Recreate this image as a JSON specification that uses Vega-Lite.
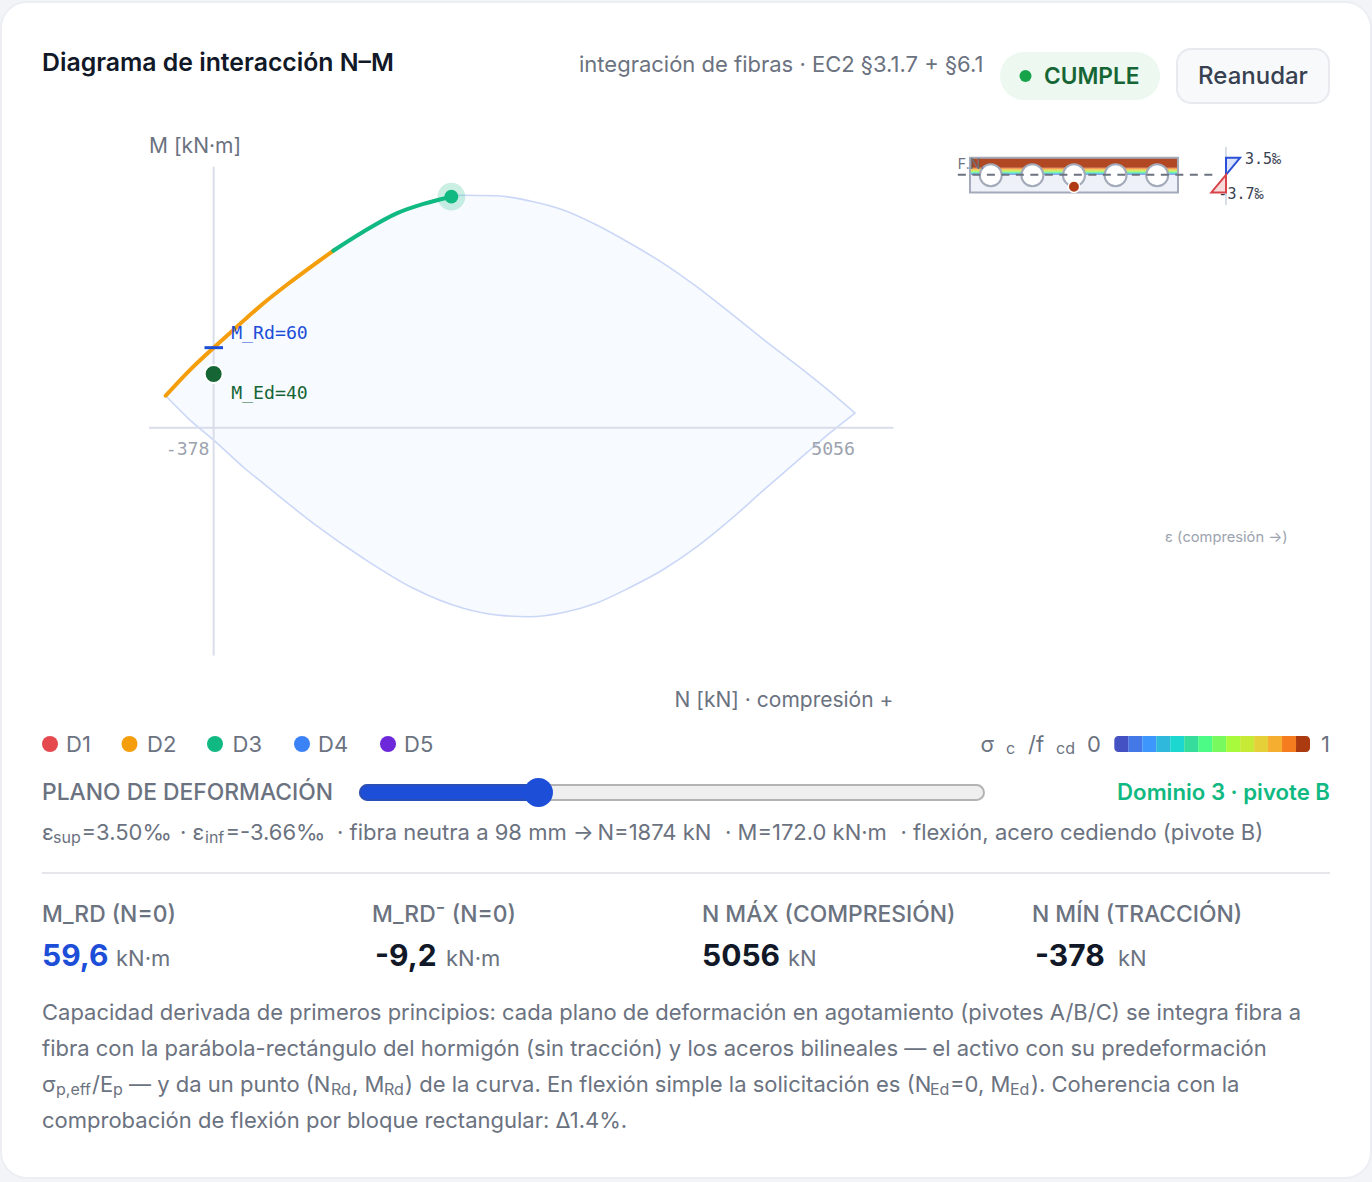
{
"$schema":"https://vega.github.io/schema/vega-lite/v6.json",
"description":"Diagrama de interaccion N-M",
"width":1370,"height":1176,
"autosize":"none",
"padding":{"left":1,"top":2,"right":1,"bottom":4},
"background":"#f3f4f8",
"view":{"fill":"#ffffff","stroke":"#eceef4","strokeWidth":2,"cornerRadius":26},
"config":{
"view":{"stroke":null},
"axis":{"disable":true},
"legend":{"disable":true},
"style":{
"body":{"font":"Inter","fontSize":22,"color":"#6b7280","align":"left","baseline":"middle"},
"sub":{"font":"Inter","fontSize":16,"color":"#6b7280","align":"left","baseline":"middle"},
"caps":{"font":"Inter","fontSize":22.85,"fontWeight":500,"color":"#6b7280","align":"left","baseline":"middle"},
"kpi":{"font":"Inter","fontSize":30,"fontWeight":700,"color":"#111827","align":"left","baseline":"middle"},
"mono":{"font":"DejaVu Sans Mono","fontSize":18.2,"align":"left","baseline":"middle"},
"monos":{"font":"DejaVu Sans Mono","fontSize":15,"color":"#374151","align":"left","baseline":"middle"}
}
},
"datasets":{
"envelope":[
{"N":-378,"up":23.8,"lo":23.8},{"N":-186,"up":43.1,"lo":5.7},{"N":0,"up":59.6,"lo":-9.2},{"N":260,"up":81.7,"lo":-31.5},{"N":391,"up":92.5,"lo":-41.4},{"N":786,"up":121.1,"lo":-71.2},{"N":1180,"up":145.9,"lo":-97.2},{"N":1574,"up":164.3,"lo":-119.6},{"N":1968,"up":173.1,"lo":-134.5},{"N":2231,"up":172.7,"lo":-139.5},{"N":2494,"up":168.8,"lo":-140.8},{"N":2756,"up":162.1,"lo":-137.6},{"N":3020,"up":150.9,"lo":-130.5},{"N":3282,"up":137.3,"lo":-119},{"N":3545,"up":122.4,"lo":-105.6},{"N":3808,"up":105,"lo":-88.8},{"N":4071,"up":85.6,"lo":-68.7},{"N":4333,"up":65.8,"lo":-46.7},{"N":4596,"up":46.7,"lo":-25.2},{"N":4859,"up":26.8,"lo":-3.9},{"N":5056,"up":10.9,"lo":10.9}],
"path":[
{"dom":"D2","N":-378,"M":23.8},{"dom":"D2","N":-186,"M":43.1},{"dom":"D2","N":0,"M":59.6},{"dom":"D2","N":129,"M":70.5},{"dom":"D2","N":260,"M":81.7},{"dom":"D2","N":391,"M":92.5},{"dom":"D2","N":588,"M":107.2},{"dom":"D2","N":786,"M":121.1},{"dom":"D2","N":943,"M":131.8},
{"dom":"D3","N":943,"M":131.8},{"dom":"D3","N":1180,"M":145.9},{"dom":"D3","N":1443,"M":159.6},{"dom":"D3","N":1654,"M":166.6},{"dom":"D3","N":1874,"M":172}],
"sigma":[
{"bin":1,"s0":0,"s1":0.0714,"d0":96,"d1":98},{"bin":2,"s0":0.0714,"s1":0.1429,"d0":93.8,"d1":96},{"bin":3,"s0":0.1429,"s1":0.2143,"d0":91.6,"d1":93.8},{"bin":4,"s0":0.2143,"s1":0.2857,"d0":89.3,"d1":91.6},{"bin":5,"s0":0.2857,"s1":0.3571,"d0":86.9,"d1":89.3},{"bin":6,"s0":0.3571,"s1":0.4286,"d0":84.3,"d1":86.9},{"bin":7,"s0":0.4286,"s1":0.5,"d0":81.6,"d1":84.3},{"bin":8,"s0":0.5,"s1":0.5714,"d0":78.7,"d1":81.6},{"bin":9,"s0":0.5714,"s1":0.6429,"d0":75.5,"d1":78.7},{"bin":10,"s0":0.6429,"s1":0.7143,"d0":71.9,"d1":75.5},{"bin":11,"s0":0.7143,"s1":0.7857,"d0":67.9,"d1":71.9},{"bin":12,"s0":0.7857,"s1":0.8571,"d0":63.2,"d1":67.9},{"bin":13,"s0":0.8571,"s1":0.9286,"d0":57,"d1":63.2},{"bin":14,"s0":0.9286,"s1":1,"d0":0,"d1":57}]
},
"resolve":{"scale":{"x":"independent","y":"independent","color":"independent"}},
"layer":[
{"layer":[
{"data":{"name":"envelope"},"mark":{"type":"area","interpolate":"monotone","fill":"#f7faff","stroke":"#cbd7f7","strokeWidth":1.6},
"encoding":{"x":{"field":"N","type":"quantitative","scale":{"domain":[-1676.4,9123.9],"nice":false,"zero":false}},"y":{"field":"up","type":"quantitative","scale":{"domain":[-558.67,316.98],"nice":false,"zero":false}},"y2":{"field":"lo"}}},
{"data":{"values":[{"from":-509,"to":5359,"at":0}]},"mark":{"type":"rule","color":"#d9dde9","strokeWidth":2},"encoding":{"x":{"field":"from","type":"quantitative"},"x2":{"field":"to"},"y":{"field":"at","type":"quantitative"}}},
{"data":{"values":[{"from":-169.7,"to":194.3,"at":0}]},"mark":{"type":"rule","color":"#d9dde9","strokeWidth":2},"encoding":{"y":{"field":"from","type":"quantitative"},"y2":{"field":"to"},"x":{"field":"at","type":"quantitative"}}},
{"data":{"name":"path"},"mark":{"type":"line","interpolate":"monotone","strokeWidth":4,"strokeCap":"round"},"encoding":{"x":{"field":"N","type":"quantitative"},"y":{"field":"M","type":"quantitative"},"color":{"field":"dom","type":"nominal","scale":{"domain":["D2","D3"],"range":["#f59e0b","#10b981"]}}}},
{"data":{"values":[{"N":1874,"M":172}]},"mark":{"type":"point","filled":true,"size":770,"color":"#10b981","opacity":0.22},"encoding":{"x":{"field":"N","type":"quantitative"},"y":{"field":"M","type":"quantitative"}}},
{"data":{"values":[{"N":1874,"M":172}]},"mark":{"type":"point","filled":true,"size":190,"color":"#10b981","opacity":1},"encoding":{"x":{"field":"N","type":"quantitative"},"y":{"field":"M","type":"quantitative"}}},
{"data":{"values":[{"from":-72,"to":74,"M":59.6}]},"mark":{"type":"rule","color":"#1d4ed8","strokeWidth":3},"encoding":{"x":{"field":"from","type":"quantitative"},"x2":{"field":"to"},"y":{"field":"M","type":"quantitative"}}},
{"data":{"values":[{"N":0,"M":40}]},"mark":{"type":"point","filled":true,"size":324,"fill":"#166534","stroke":"#ffffff","strokeWidth":2,"opacity":1},"encoding":{"x":{"field":"N","type":"quantitative"},"y":{"field":"M","type":"quantitative"}}},
{"data":{"values":[{"N":0,"M":59.6,"t":"M_Rd=60"}]},"mark":{"type":"text","style":"mono","color":"#1d4ed8","dx":17.5,"dy":-14},"encoding":{"x":{"field":"N","type":"quantitative"},"y":{"field":"M","type":"quantitative"},"text":{"field":"t"}}},
{"data":{"values":[{"N":0,"M":40,"t":"M_Ed=40"}]},"mark":{"type":"text","style":"mono","color":"#166534","dx":17.5,"dy":20.5},"encoding":{"x":{"field":"N","type":"quantitative"},"y":{"field":"M","type":"quantitative"},"text":{"field":"t"}}},
{"data":{"values":[{"N":-378,"M":0,"t":"-378"}]},"mark":{"type":"text","style":"mono","color":"#9ca3af","dy":22.5},"encoding":{"x":{"field":"N","type":"quantitative"},"y":{"field":"M","type":"quantitative"},"text":{"field":"t"}}},
{"data":{"values":[{"N":5056,"M":0,"t":"5056"}]},"mark":{"type":"text","style":"mono","color":"#9ca3af","align":"right","dy":22.5},"encoding":{"x":{"field":"N","type":"quantitative"},"y":{"field":"M","type":"quantitative"},"text":{"field":"t"}}},
{"data":{"values":[{"N":-509,"M":194.3,"t":"M [kN·m]"}]},"mark":{"type":"text","style":"body","fontSize":21,"dy":-19.5},"encoding":{"x":{"field":"N","type":"quantitative"},"y":{"field":"M","type":"quantitative"},"text":{"field":"t"}}},
{"data":{"values":[{"N":5359,"M":-169.7,"t":"N [kN] · compresión +"}]},"mark":{"type":"text","style":"body","fontSize":21,"align":"right","dy":45.5},"encoding":{"x":{"field":"N","type":"quantitative"},"y":{"field":"M","type":"quantitative"},"text":{"field":"t"}}}
]},
{"layer":[
{"data":{"values":[{"b0":0,"b1":1200,"d0":0,"d1":200}]},"mark":{"type":"rect","fill":"#eef1f7"},
"encoding":{"x":{"field":"b0","type":"quantitative","scale":{"domain":[-5590,2313.5],"nice":false,"zero":false}},"x2":{"field":"b1"},"y":{"field":"d0","type":"quantitative","scale":{"domain":[-898.8,5885.8],"reverse":true,"nice":false,"zero":false}},"y2":{"field":"d1"}}},
{"data":{"name":"sigma"},"mark":{"type":"rect","opacity":0.92},"encoding":{"x":{"datum":0},"x2":{"datum":1200},"y":{"field":"d0","type":"quantitative"},"y2":{"field":"d1"},"color":{"field":"bin","type":"ordinal","scale":{"domain":[1,2,3,4,5,6,7,8,9,10,11,12,13,14],"range":["#4451c3","#4478e6","#3d96fb","#2fb7dc","#1bd7d0","#35dc9b","#4bfb85","#78fa5e","#a8fb3c","#c6ea36","#e5d03a","#f5ae2f","#f57d20","#ac3a10"]}}}},
{"data":{"values":[{"b0":0,"b1":1200,"d0":0,"d1":200}]},"mark":{"type":"rect","fill":null,"stroke":"#a3aaba","strokeWidth":2},"encoding":{"x":{"field":"b0","type":"quantitative"},"x2":{"field":"b1"},"y":{"field":"d0","type":"quantitative"},"y2":{"field":"d1"}}},
{"data":{"values":[{"b":120,"d":101},{"b":360,"d":101},{"b":600,"d":101},{"b":840,"d":101},{"b":1080,"d":101}]},"mark":{"type":"point","filled":true,"size":484,"fill":"#ffffff","stroke":"#a3aaba","strokeWidth":2,"opacity":1},"encoding":{"x":{"field":"b","type":"quantitative"},"y":{"field":"d","type":"quantitative"}}},
{"data":{"values":[{"b":600,"d":167}]},"mark":{"type":"point","filled":true,"size":130,"fill":"#b03a14","stroke":"#ffffff","strokeWidth":1.5,"opacity":1},"encoding":{"x":{"field":"b","type":"quantitative"},"y":{"field":"d","type":"quantitative"}}},
{"data":{"values":[{"from":-70,"to":1414,"d":98}]},"mark":{"type":"rule","color":"#6b7280","strokeWidth":2,"strokeDash":[8,6.5]},"encoding":{"x":{"field":"from","type":"quantitative"},"x2":{"field":"to"},"y":{"field":"d","type":"quantitative"}}},
{"data":{"values":[{"b":-70,"d":98,"t":"F.N."}]},"mark":{"type":"text","style":"body","fontSize":14,"dy":-9.5},"encoding":{"x":{"field":"b","type":"quantitative"},"y":{"field":"d","type":"quantitative"},"text":{"field":"t"}}}
]},
{"layer":[
{"data":{"values":[{"e":0,"d0":-62,"d1":272}]},"mark":{"type":"rule","color":"#d9dde9","strokeWidth":2},"encoding":{"x":{"field":"e","type":"quantitative","scale":{"domain":[-306.25,36.25],"nice":false,"zero":false}},"y":{"field":"d0","type":"quantitative","scale":{"domain":[-898.8,5885.8],"reverse":true,"nice":false,"zero":false}},"y2":{"field":"d1"}}},
{"data":{"values":[{"e":3.5,"d":0},{"e":0,"d":98}]},"mark":{"type":"area","orient":"horizontal","fill":"#dbe4fb","stroke":"#2b50d8","strokeWidth":2},"encoding":{"x":{"field":"e","type":"quantitative"},"x2":{"datum":0},"y":{"field":"d","type":"quantitative"}}},
{"data":{"values":[{"e":0,"d":98},{"e":-3.66,"d":200}]},"mark":{"type":"area","orient":"horizontal","fill":"#f8dcdc","stroke":"#d9444a","strokeWidth":2},"encoding":{"x":{"field":"e","type":"quantitative"},"x2":{"datum":0},"y":{"field":"d","type":"quantitative"}}},
{"data":{"values":[{"e":3.5,"d":0,"t":"3.5‰"}]},"mark":{"type":"text","style":"monos","dx":5,"dy":1},"encoding":{"x":{"field":"e","type":"quantitative"},"y":{"field":"d","type":"quantitative"},"text":{"field":"t"}}},
{"data":{"values":[{"e":-3.66,"d":200,"t":"-3.7‰"}]},"mark":{"type":"text","style":"monos","dx":7,"dy":2},"encoding":{"x":{"field":"e","type":"quantitative"},"y":{"field":"d","type":"quantitative"},"text":{"field":"t"}}}
]},
{"layer":[
{"data":{"name":"sigma"},"transform":[{"filter":"datum.bin > 1 && datum.bin < 14"}],"mark":{"type":"rect"},"encoding":{"x":{"field":"s0","type":"quantitative","scale":{"domain":[-5.689,1.3117],"nice":false,"zero":false}},"x2":{"field":"s1"},"y":{"datum":736,"scale":{"domain":[2,1178],"reverse":true,"nice":false,"zero":false}},"y2":{"datum":752},"color":{"field":"bin","type":"ordinal","scale":{"domain":[1,2,3,4,5,6,7,8,9,10,11,12,13,14],"range":["#4451c3","#4478e6","#3d96fb","#2fb7dc","#1bd7d0","#35dc9b","#4bfb85","#78fa5e","#a8fb3c","#c6ea36","#e5d03a","#f5ae2f","#f57d20","#ac3a10"]}}}},
{"data":{"name":"sigma"},"transform":[{"filter":"datum.bin == 1"}],"mark":{"type":"rect","cornerRadiusTopLeft":4,"cornerRadiusBottomLeft":4},"encoding":{"x":{"field":"s0","type":"quantitative"},"x2":{"field":"s1"},"y":{"datum":736},"y2":{"datum":752},"color":{"field":"bin","type":"ordinal"}}},
{"data":{"name":"sigma"},"transform":[{"filter":"datum.bin == 14"}],"mark":{"type":"rect","cornerRadiusTopRight":4,"cornerRadiusBottomRight":4},"encoding":{"x":{"field":"s0","type":"quantitative"},"x2":{"field":"s1"},"y":{"datum":736},"y2":{"datum":752},"color":{"field":"bin","type":"ordinal"}}}
]},
{"layer":[
{"data":{"values":[{"start":0,"end":1}]},"mark":{"type":"rect","fill":"#efefef","stroke":"#b3b3b3","strokeWidth":2,"cornerRadius":8},"encoding":{"x":{"field":"start","type":"quantitative","scale":{"domain":[-0.5753,1.6202],"nice":false,"zero":false}},"x2":{"field":"end"},"y":{"datum":785,"scale":{"domain":[2,1178],"reverse":true,"nice":false,"zero":false}},"y2":{"datum":800}}},
{"data":{"values":[{"start":0,"value":0.286}]},"mark":{"type":"rect","fill":"#1d4ed8","stroke":"#2a4fb8","strokeWidth":2,"cornerRadius":8},"encoding":{"x":{"field":"start","type":"quantitative"},"x2":{"field":"value"},"y":{"datum":785},"y2":{"datum":800}}},
{"data":{"values":[{"value":0.286}]},"mark":{"type":"point","filled":true,"size":841,"color":"#1d4ed8","opacity":1},"encoding":{"x":{"field":"value","type":"quantitative"},"y":{"datum":792.5}}}
]},
{"layer":[
{"data":{"values":[{"t":"pill"}]},"mark":{"type":"rect","fill":"#edf8f1","cornerRadius":24},"encoding":{"x":{"datum":1000,"scale":{"domain":[1,1371],"nice":false,"zero":false}},"x2":{"datum":1160},"y":{"datum":52,"scale":{"domain":[2,1178],"reverse":true,"nice":false,"zero":false}},"y2":{"datum":100}}},
{"data":{"values":[{"t":"button"}]},"mark":{"type":"rect","fill":"#f8f9fb","stroke":"#e8eaef","strokeWidth":2,"cornerRadius":14},"encoding":{"x":{"datum":1177},"x2":{"datum":1329},"y":{"datum":49},"y2":{"datum":103}}},
{"data":{"values":[{"t":"divider"}]},"mark":{"type":"rule","color":"#e5e7eb","strokeWidth":2},"encoding":{"x":{"datum":42},"x2":{"datum":1330},"y":{"datum":873}}},
{"data":{"values":[{"t":"Diagrama de interacción N–M"}]},"mark":{"type":"text","style":"body","fontSize":24.8,"fontWeight":600,"color":"#111827"},"encoding":{"x":{"datum":42},"y":{"datum":64},"text":{"field":"t"}}},
{"data":{"values":[{"t":"integración de fibras · EC2 §3.1.7 + §6.1"}]},"mark":{"type":"text","style":"body"},"encoding":{"x":{"datum":579},"y":{"datum":65},"text":{"field":"t"}}},
{"data":{"values":[{"t":"ok"}]},"mark":{"type":"point","filled":true,"size":144,"color":"#16a34a","opacity":1},"encoding":{"x":{"datum":1025.5},"y":{"datum":76}}},
{"data":{"values":[{"t":"CUMPLE"}]},"mark":{"type":"text","style":"body","fontSize":22.7,"fontWeight":600,"color":"#166534"},"encoding":{"x":{"datum":1044},"y":{"datum":77},"text":{"field":"t"}}},
{"data":{"values":[{"t":"Reanudar"}]},"mark":{"type":"text","style":"body","fontSize":24,"fontWeight":500,"color":"#374151","align":"center"},"encoding":{"x":{"datum":1253},"y":{"datum":77},"text":{"field":"t"}}},
{"data":{"values":[{"t":"ε (compresión →)"}]},"mark":{"type":"text","style":"body","fontSize":14.7,"color":"#9ca3af"},"encoding":{"x":{"datum":1165},"y":{"datum":538},"text":{"field":"t"}}},
{"data":{"values":[{"t":"D1"}]},"mark":{"type":"point","filled":true,"size":256,"color":"#e5484d","opacity":1},"encoding":{"x":{"datum":50},"y":{"datum":744}}},
{"data":{"values":[{"t":"D2"}]},"mark":{"type":"point","filled":true,"size":256,"color":"#f59e0b","opacity":1},"encoding":{"x":{"datum":129.5},"y":{"datum":744}}},
{"data":{"values":[{"t":"D3"}]},"mark":{"type":"point","filled":true,"size":256,"color":"#10b981","opacity":1},"encoding":{"x":{"datum":215},"y":{"datum":744}}},
{"data":{"values":[{"t":"D4"}]},"mark":{"type":"point","filled":true,"size":256,"color":"#3b82f6","opacity":1},"encoding":{"x":{"datum":302},"y":{"datum":744}}},
{"data":{"values":[{"t":"D5"}]},"mark":{"type":"point","filled":true,"size":256,"color":"#6d28d9","opacity":1},"encoding":{"x":{"datum":388},"y":{"datum":744}}},
{"data":{"values":[{"t":"D1"}]},"mark":{"type":"text","style":"body"},"encoding":{"x":{"datum":66},"y":{"datum":745},"text":{"field":"t"}}},
{"data":{"values":[{"t":"D2"}]},"mark":{"type":"text","style":"body"},"encoding":{"x":{"datum":147},"y":{"datum":745},"text":{"field":"t"}}},
{"data":{"values":[{"t":"D3"}]},"mark":{"type":"text","style":"body"},"encoding":{"x":{"datum":232.5},"y":{"datum":745},"text":{"field":"t"}}},
{"data":{"values":[{"t":"D4"}]},"mark":{"type":"text","style":"body"},"encoding":{"x":{"datum":318},"y":{"datum":745},"text":{"field":"t"}}},
{"data":{"values":[{"t":"D5"}]},"mark":{"type":"text","style":"body"},"encoding":{"x":{"datum":404},"y":{"datum":745},"text":{"field":"t"}}},
{"data":{"values":[{"t":"σ"}]},"mark":{"type":"text","style":"body"},"encoding":{"x":{"datum":980.5},"y":{"datum":745},"text":{"field":"t"}}},
{"data":{"values":[{"t":"c"}]},"mark":{"type":"text","style":"sub"},"encoding":{"x":{"datum":1006},"y":{"datum":749},"text":{"field":"t"}}},
{"data":{"values":[{"t":"/f"}]},"mark":{"type":"text","style":"body"},"encoding":{"x":{"datum":1028},"y":{"datum":745},"text":{"field":"t"}}},
{"data":{"values":[{"t":"cd"}]},"mark":{"type":"text","style":"sub"},"encoding":{"x":{"datum":1056},"y":{"datum":749},"text":{"field":"t"}}},
{"data":{"values":[{"t":"0"}]},"mark":{"type":"text","style":"body"},"encoding":{"x":{"datum":1087},"y":{"datum":745},"text":{"field":"t"}}},
{"data":{"values":[{"t":"1"}]},"mark":{"type":"text","style":"body"},"encoding":{"x":{"datum":1321},"y":{"datum":745},"text":{"field":"t"}}},
{"data":{"values":[{"t":"PLANO DE DEFORMACIÓN"}]},"mark":{"type":"text","style":"caps"},"encoding":{"x":{"datum":42},"y":{"datum":793},"text":{"field":"t"}}},
{"data":{"values":[{"t":"Dominio 3 · pivote B"}]},"mark":{"type":"text","style":"body","fontSize":22.2,"fontWeight":600,"color":"#10b981","align":"right"},"encoding":{"x":{"datum":1330},"y":{"datum":793},"text":{"field":"t"}}},
{"data":{"values":[{"t":"ε"}]},"mark":{"type":"text","style":"body"},"encoding":{"x":{"datum":42},"y":{"datum":833},"text":{"field":"t"}}},
{"data":{"values":[{"t":"sup"}]},"mark":{"type":"text","style":"sub"},"encoding":{"x":{"datum":53},"y":{"datum":838},"text":{"field":"t"}}},
{"data":{"values":[{"t":"=3.50‰"}]},"mark":{"type":"text","style":"body"},"encoding":{"x":{"datum":81.5},"y":{"datum":833},"text":{"field":"t"}}},
{"data":{"values":[{"t":"· ε"}]},"mark":{"type":"text","style":"body"},"encoding":{"x":{"datum":180},"y":{"datum":833},"text":{"field":"t"}}},
{"data":{"values":[{"t":"inf"}]},"mark":{"type":"text","style":"sub"},"encoding":{"x":{"datum":205},"y":{"datum":838},"text":{"field":"t"}}},
{"data":{"values":[{"t":"=-3.66‰"}]},"mark":{"type":"text","style":"body"},"encoding":{"x":{"datum":225.5},"y":{"datum":833},"text":{"field":"t"}}},
{"data":{"values":[{"t":"· fibra neutra a 98 mm →"}]},"mark":{"type":"text","style":"body"},"encoding":{"x":{"datum":337},"y":{"datum":833},"text":{"field":"t"}}},
{"data":{"values":[{"t":"N=1874 kN"}]},"mark":{"type":"text","style":"body"},"encoding":{"x":{"datum":597.5},"y":{"datum":833},"text":{"field":"t"}}},
{"data":{"values":[{"t":"· M=172.0 kN·m"}]},"mark":{"type":"text","style":"body"},"encoding":{"x":{"datum":725},"y":{"datum":833},"text":{"field":"t"}}},
{"data":{"values":[{"t":"· flexión, acero cediendo (pivote B)"}]},"mark":{"type":"text","style":"body"},"encoding":{"x":{"datum":900.5},"y":{"datum":833},"text":{"field":"t"}}},
{"data":{"values":[{"t":"M_RD (N=0)"}]},"mark":{"type":"text","style":"caps"},"encoding":{"x":{"datum":42},"y":{"datum":915},"text":{"field":"t"}}},
{"data":{"values":[{"t":"M_RD⁻ (N=0)"}]},"mark":{"type":"text","style":"caps"},"encoding":{"x":{"datum":372},"y":{"datum":915},"text":{"field":"t"}}},
{"data":{"values":[{"t":"N MÁX (COMPRESIÓN)"}]},"mark":{"type":"text","style":"caps"},"encoding":{"x":{"datum":702},"y":{"datum":915},"text":{"field":"t"}}},
{"data":{"values":[{"t":"N MÍN (TRACCIÓN)"}]},"mark":{"type":"text","style":"caps"},"encoding":{"x":{"datum":1032},"y":{"datum":915},"text":{"field":"t"}}},
{"data":{"values":[{"t":"59,6"}]},"mark":{"type":"text","style":"kpi","color":"#1d4ed8"},"encoding":{"x":{"datum":42},"y":{"datum":957},"text":{"field":"t"}}},
{"data":{"values":[{"t":"-9,2"}]},"mark":{"type":"text","style":"kpi"},"encoding":{"x":{"datum":375},"y":{"datum":957},"text":{"field":"t"}}},
{"data":{"values":[{"t":"5056"}]},"mark":{"type":"text","style":"kpi"},"encoding":{"x":{"datum":702},"y":{"datum":957},"text":{"field":"t"}}},
{"data":{"values":[{"t":"-378"}]},"mark":{"type":"text","style":"kpi"},"encoding":{"x":{"datum":1035},"y":{"datum":957},"text":{"field":"t"}}},
{"data":{"values":[{"t":"kN·m"}]},"mark":{"type":"text","style":"body"},"encoding":{"x":{"datum":116},"y":{"datum":959},"text":{"field":"t"}}},
{"data":{"values":[{"t":"kN·m"}]},"mark":{"type":"text","style":"body"},"encoding":{"x":{"datum":446},"y":{"datum":959},"text":{"field":"t"}}},
{"data":{"values":[{"t":"kN"}]},"mark":{"type":"text","style":"body"},"encoding":{"x":{"datum":788},"y":{"datum":959},"text":{"field":"t"}}},
{"data":{"values":[{"t":"kN"}]},"mark":{"type":"text","style":"body"},"encoding":{"x":{"datum":1118},"y":{"datum":959},"text":{"field":"t"}}},
{"data":{"values":[{"t":"Capacidad derivada de primeros principios: cada plano de deformación en agotamiento (pivotes A/B/C) se integra fibra a"}]},"mark":{"type":"text","style":"body"},"encoding":{"x":{"datum":42},"y":{"datum":1013},"text":{"field":"t"}}},
{"data":{"values":[{"t":"fibra con la parábola-rectángulo del hormigón (sin tracción) y los aceros bilineales — el activo con su predeformación"}]},"mark":{"type":"text","style":"body"},"encoding":{"x":{"datum":42},"y":{"datum":1049},"text":{"field":"t"}}},
{"data":{"values":[{"t":"σ"}]},"mark":{"type":"text","style":"body"},"encoding":{"x":{"datum":42},"y":{"datum":1085},"text":{"field":"t"}}},
{"data":{"values":[{"t":"p,eff"}]},"mark":{"type":"text","style":"sub"},"encoding":{"x":{"datum":56},"y":{"datum":1090},"text":{"field":"t"}}},
{"data":{"values":[{"t":"/E"}]},"mark":{"type":"text","style":"body"},"encoding":{"x":{"datum":92},"y":{"datum":1085},"text":{"field":"t"}}},
{"data":{"values":[{"t":"p"}]},"mark":{"type":"text","style":"sub"},"encoding":{"x":{"datum":113},"y":{"datum":1090},"text":{"field":"t"}}},
{"data":{"values":[{"t":"— y da un punto (N"}]},"mark":{"type":"text","style":"body"},"encoding":{"x":{"datum":129},"y":{"datum":1085},"text":{"field":"t"}}},
{"data":{"values":[{"t":"Rd"}]},"mark":{"type":"text","style":"sub"},"encoding":{"x":{"datum":331},"y":{"datum":1090},"text":{"field":"t"}}},
{"data":{"values":[{"t":", M"}]},"mark":{"type":"text","style":"body"},"encoding":{"x":{"datum":352},"y":{"datum":1085},"text":{"field":"t"}}},
{"data":{"values":[{"t":"Rd"}]},"mark":{"type":"text","style":"sub"},"encoding":{"x":{"datum":384},"y":{"datum":1090},"text":{"field":"t"}}},
{"data":{"values":[{"t":") de la curva. En flexión simple la solicitación es (N"}]},"mark":{"type":"text","style":"body"},"encoding":{"x":{"datum":405},"y":{"datum":1085},"text":{"field":"t"}}},
{"data":{"values":[{"t":"Ed"}]},"mark":{"type":"text","style":"sub"},"encoding":{"x":{"datum":930},"y":{"datum":1090},"text":{"field":"t"}}},
{"data":{"values":[{"t":"=0, M"}]},"mark":{"type":"text","style":"body"},"encoding":{"x":{"datum":950},"y":{"datum":1085},"text":{"field":"t"}}},
{"data":{"values":[{"t":"Ed"}]},"mark":{"type":"text","style":"sub"},"encoding":{"x":{"datum":1010},"y":{"datum":1090},"text":{"field":"t"}}},
{"data":{"values":[{"t":"). Coherencia con la"}]},"mark":{"type":"text","style":"body"},"encoding":{"x":{"datum":1031},"y":{"datum":1085},"text":{"field":"t"}}},
{"data":{"values":[{"t":"comprobación de flexión por bloque rectangular: Δ1.4%."}]},"mark":{"type":"text","style":"body"},"encoding":{"x":{"datum":42},"y":{"datum":1121},"text":{"field":"t"}}}
]}
]
}
